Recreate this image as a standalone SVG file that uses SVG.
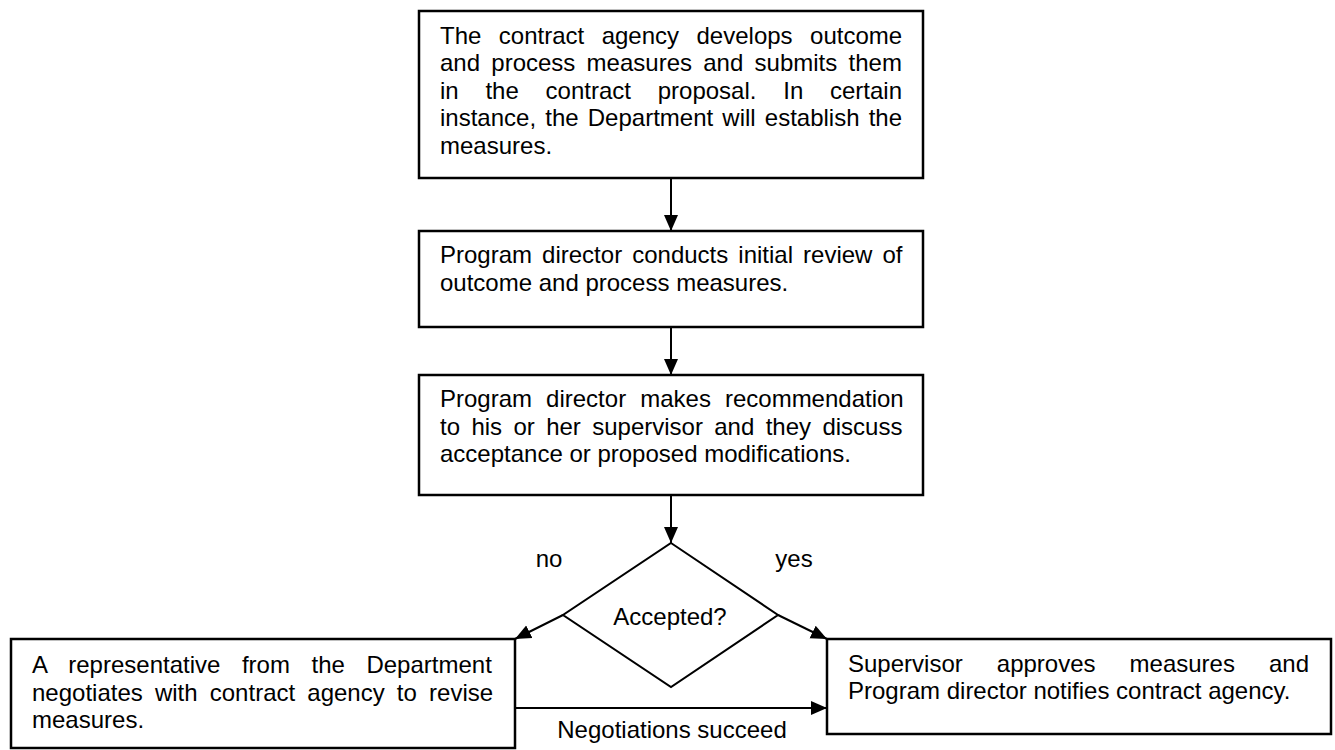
<svg xmlns="http://www.w3.org/2000/svg" width="1335" height="750" viewBox="0 0 1335 750">
<style>
.box{fill:#fff;stroke:#000;stroke-width:2.5}
.dia{fill:#fff;stroke:#000;stroke-width:2}
.t{font-family:"Liberation Sans",Arial,sans-serif;font-size:24px;fill:#000}
.c{text-anchor:middle}
.ln{stroke:#000;stroke-width:2;fill:none}
</style>
<defs>
<marker id="ah" markerUnits="userSpaceOnUse" markerWidth="16" markerHeight="16" viewBox="0 0 16 14" refX="16" refY="7" orient="auto">
<path d="M0,0 L16,7 L0,14 Z" fill="#000"/>
</marker>
</defs>
<rect width="1335" height="750" fill="#fff"/>
<g id="connectors">
<line class="ln" x1="671" y1="178" x2="671" y2="231" marker-end="url(#ah)"/>
<line class="ln" x1="671" y1="327" x2="671" y2="375" marker-end="url(#ah)"/>
<line class="ln" x1="671" y1="495" x2="671" y2="543" marker-end="url(#ah)"/>
<line class="ln" x1="563" y1="615" x2="515" y2="639" marker-end="url(#ah)"/>
<line class="ln" x1="778" y1="615" x2="827" y2="639" marker-end="url(#ah)"/>
<line class="ln" x1="515" y1="708" x2="827" y2="708" marker-end="url(#ah)"/>
<text class="t c" x="549" y="567">no</text>
<text class="t c" x="794" y="567">yes</text>
<text class="t c" x="672" y="738">Negotiations succeed</text>
</g>
<g id="n1">
<rect class="box" x="419" y="11" width="504" height="167"/>
<text class="t" x="440" y="43.5" word-spacing="10.8">The contract agency develops outcome</text>
<text class="t" x="440" y="71" word-spacing="4.6">and process measures and submits them</text>
<text class="t" x="440" y="98.5" word-spacing="20.1">in the contract proposal. In certain</text>
<text class="t" x="440" y="126" word-spacing="2.5">instance, the Department will establish the</text>
<text class="t" x="440" y="153.5">measures.</text>
</g>
<g id="n2">
<rect class="box" x="419" y="231" width="504" height="96"/>
<text class="t" x="440" y="263" word-spacing="3.4">Program director conducts initial review of</text>
<text class="t" x="440" y="291">outcome and process measures.</text>
</g>
<g id="n3">
<rect class="box" x="419" y="375" width="504" height="120"/>
<text class="t" x="440" y="407" word-spacing="7.4">Program director makes recommendation</text>
<text class="t" x="440" y="434.5" word-spacing="4.7">to his or her supervisor and they discuss</text>
<text class="t" x="440" y="462">acceptance or proposed modifications.</text>
</g>
<g id="n4">
<polygon class="dia" points="671,543 778,615 671,687 563,615"/>
<text class="t c" x="670" y="625">Accepted?</text>
</g>
<g id="n5">
<rect class="box" x="11" y="639" width="504" height="109"/>
<text class="t" x="32" y="673" word-spacing="14.9">A representative from the Department</text>
<text class="t" x="32" y="700.5" word-spacing="5.5">negotiates with contract agency to revise</text>
<text class="t" x="32" y="728">measures.</text>
</g>
<g id="n6">
<rect class="box" x="827" y="639" width="504" height="95"/>
<text class="t" x="848" y="672" word-spacing="27.4">Supervisor approves measures and</text>
<text class="t" x="848" y="699">Program director notifies contract agency.</text>
</g>
</svg>
